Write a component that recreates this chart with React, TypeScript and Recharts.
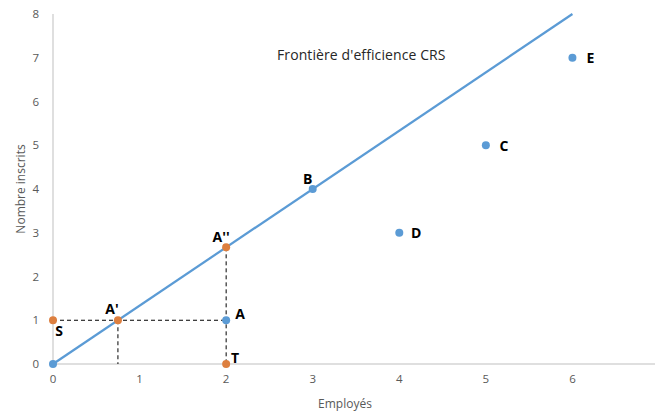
import React from 'react';
import { ComposedChart, Scatter, XAxis, YAxis, Label } from 'recharts';

const xTicks = [0, 1, 2, 3, 4, 5, 6, 7];
const yTicks = [0, 1, 2, 3, 4, 5, 6, 7, 8];

const frontier = [
  { x: 0, y: 0 },
  { x: 6, y: 8 },
];

const bluePoints = [
  { x: 0, y: 0, name: '' },
  { x: 3, y: 4, name: 'B' },
  { x: 2, y: 1, name: 'A' },
  { x: 4, y: 3, name: 'D' },
  { x: 5, y: 5, name: 'C' },
  { x: 6, y: 7, name: 'E' },
];

const orangePoints = [
  { x: 0, y: 1, name: 'S' },
  { x: 0.75, y: 1, name: "A'" },
  { x: 2, y: 8 / 3, name: "A''" },
  { x: 2, y: 0, name: 'T' },
];

const dashH = [
  { x: 0, y: 1 },
  { x: 2, y: 1 },
];
const dashV1 = [
  { x: 0.75, y: 1 },
  { x: 0.75, y: 0 },
];
const dashV2 = [
  { x: 2, y: 8 / 3 },
  { x: 2, y: 0 },
];

const titleText = "Frontière d'efficience CRS";

// label offsets (style) relative to point centre
const labelOffsets: Record<string, [number, number]> = {
  B: [-5, -11],
  "A''": [-5, -11],
  "A'": [-6, -12],
  A: [14, -7],
  S: [6, 10],
  T: [9, -7],
  D: [17, 0],
  C: [18, 0],
  E: [18, 0],
};

const BLUE = '#5b9bd5';
const ORANGE = '#dd7f3f';

const makeShape = (color: string) => (props: any) => {
  const { cx, cy, payload } = props;
  const name = payload?.name || '';
  const off = labelOffsets[name] || [0, 0];
  return (
    <g>
      <circle cx={cx} cy={cy} r={4} fill={color} />
      {name ? (
        <text
          x={cx + off[0]}
          y={cy + off[1]}
          textAnchor="middle"
          dominantBaseline="central"
          fontFamily="'Open Sans', sans-serif"
          fontWeight="bold"
          fontSize={14}
          fill="#000"
        >
          {name}
        </text>
      ) : null}
    </g>
  );
};

const emptyShape = () => <g />;

const tickStyle = { fontFamily: "'Open Sans', sans-serif", fontSize: 11.5, fill: '#595959' };

export default function App() {
  return (
    <div
      style={{
        position: 'absolute',
        left: 0,
        top: 0,
        width: 655,
        height: 416,
        overflow: 'hidden',
        background: '#fff',
      }}
    >
      <ComposedChart
        width={680}
        height={416}
        margin={{ top: 14, right: 21, bottom: 22, left: 13 }}
      >
        <XAxis
          type="number"
          dataKey="x"
          domain={[0, 7]}
          ticks={xTicks}
          axisLine={{ stroke: '#bfbfbf' }}
          tickLine={false}
          tickMargin={5}
          height={30}
          tick={tickStyle}
        >
          <Label
            value="Employés"
            position="insideBottom"
            offset={-14}
            dx={-11}
            style={{ fontFamily: "'Open Sans', sans-serif", fontSize: 12, fill: '#595959' }}
          />
        </XAxis>
        <YAxis
          type="number"
          dataKey="y"
          domain={[0, 8]}
          ticks={yTicks}
          axisLine={{ stroke: '#bfbfbf' }}
          tickLine={false}
          tickMargin={8}
          width={40}
          tick={tickStyle}
        >
          <Label
            value="Nombre inscrits"
            angle={-90}
            position="insideLeft"
            offset={8}
            style={{ textAnchor: 'middle', fontFamily: "'Open Sans', sans-serif", fontSize: 12, fill: '#595959' }}
          />
        </YAxis>
        <Scatter
          data={dashH}
          line={{ stroke: '#000', strokeWidth: 1, strokeDasharray: '4 3' }}
          shape={emptyShape}
          isAnimationActive={false}
        />
        <Scatter
          data={dashV1}
          line={{ stroke: '#000', strokeWidth: 1, strokeDasharray: '4 3' }}
          shape={emptyShape}
          isAnimationActive={false}
        />
        <Scatter
          data={dashV2}
          line={{ stroke: '#000', strokeWidth: 1, strokeDasharray: '4 3' }}
          shape={emptyShape}
          isAnimationActive={false}
        />
        <Scatter
          data={frontier}
          line={{ stroke: BLUE, strokeWidth: 2.25 }}
          shape={emptyShape}
          isAnimationActive={false}
        />
        <Scatter data={bluePoints} shape={makeShape(BLUE)} isAnimationActive={false} />
        <Scatter data={orangePoints} shape={makeShape(ORANGE)} isAnimationActive={false} />
      </ComposedChart>
      <div
        style={{
          position: 'absolute',
          left: 277,
          top: 45,
          fontFamily: "'Open Sans', sans-serif",
          fontSize: 14,
          color: '#262626',
          whiteSpace: 'nowrap',
          lineHeight: '20px',
          letterSpacing: '0.1px',
        }}
      >
        {titleText}
      </div>
    </div>
  );
}
